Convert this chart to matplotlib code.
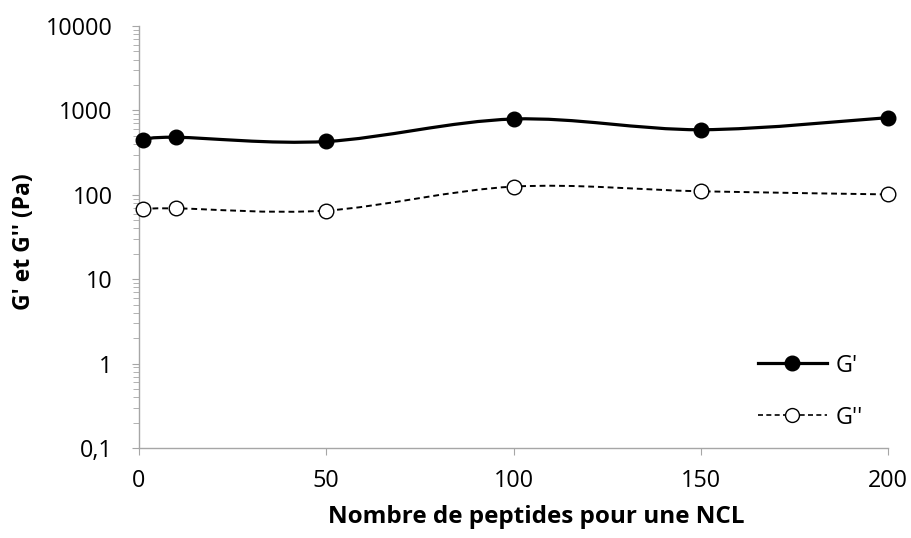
import numpy as np
import matplotlib
matplotlib.use("Agg")
import matplotlib.pyplot as plt
from matplotlib.path import Path
from matplotlib.patches import PathPatch
from matplotlib.lines import Line2D
from matplotlib.ticker import LogLocator, NullFormatter

x_vals = [1, 10, 50, 100, 150, 200]
g_prime = [450, 480, 428, 790, 590, 820]
g_second = [68, 69, 65, 125, 110, 101]
y_ticks = [0.1, 1, 10, 100, 1000, 10000]
y_tick_labels = ["0,1", "1", "10", "100", "1000", "10000"]
x_ticks = [0, 50, 100, 150, 200]

plt.rcParams['font.family'] = ['Open Sans', 'DejaVu Sans']

fig = plt.figure(figsize=(9.12, 5.38), dpi=100)
ax = fig.add_axes([0.1524, 0.1673, 0.8213, 0.7844])


def smooth_path(xs, ys):
    # Excel-like smoothed line (cubic Bezier, Catmull-Rom style) in (x, log y) space
    px = np.array(xs, float)
    py = np.log10(np.array(ys, float))
    n = len(px)
    verts = [(px[0], py[0])]
    codes = [Path.MOVETO]
    for i in range(n - 1):
        p0 = (px[max(i - 1, 0)], py[max(i - 1, 0)])
        p1 = (px[i], py[i])
        p2 = (px[i + 1], py[i + 1])
        p3 = (px[min(i + 2, n - 1)], py[min(i + 2, n - 1)])
        t = 1 / 6
        c1 = (p1[0] + (p2[0] - p0[0]) * t, p1[1] + (p2[1] - p0[1]) * t)
        c2 = (p2[0] - (p3[0] - p1[0]) * t, p2[1] - (p3[1] - p1[1]) * t)
        verts += [c1, c2, p2]
        codes += [Path.CURVE4] * 3
    verts = [(vx, 10 ** vy) for vx, vy in verts]
    return Path(verts, codes)


ax.set_yscale('log')
ax.set_xlim(0, 200)
ax.set_ylim(0.1, 10000)

ax.add_patch(PathPatch(smooth_path(x_vals, g_prime), fill=False, lw=2.3,
                       color='black', zorder=2))
ax.add_patch(PathPatch(smooth_path(x_vals, g_second), fill=False, lw=1.4,
                       color='black', linestyle=(0, (3, 2)), zorder=2))
ax.plot(x_vals, g_prime, linestyle='none', marker='o', ms=10.5,
        mfc='black', mec='black', zorder=3, clip_on=False)
ax.plot(x_vals, g_second, linestyle='none', marker='o', ms=10.5,
        mfc='white', mec='black', mew=1.0, zorder=3, clip_on=False)

ax.set_yticks(y_ticks)
ax.set_yticklabels(y_tick_labels)
ax.yaxis.set_minor_locator(LogLocator(base=10, subs=np.arange(2, 10)))
ax.yaxis.set_minor_formatter(NullFormatter())
ax.set_xticks(x_ticks)

for s in ['top', 'right']:
    ax.spines[s].set_visible(False)
for s in ['left', 'bottom']:
    ax.spines[s].set_color('#a6a6a6')
    ax.spines[s].set_linewidth(1.0)
ax.tick_params(axis='both', which='major', direction='out', length=5,
               color='#a6a6a6', labelsize=16.8)
ax.tick_params(axis='y', which='major', pad=14)
ax.tick_params(axis='x', which='major', pad=10)
ax.tick_params(axis='y', which='minor', direction='out', length=4,
               color='#a6a6a6')

ax.set_xlabel("Nombre de peptides pour une NCL", fontsize=17.5,
              fontweight='bold', labelpad=10)
ax.xaxis.set_label_coords(0.531, -0.135)
ax.set_ylabel("G' et G'' (Pa)", fontsize=16.5, fontweight='bold')
ax.yaxis.set_label_coords(-0.138, 0.49)

handles = [
    Line2D([], [], color='black', lw=2.3, marker='o', ms=10.5,
           mfc='black', mec='black'),
    Line2D([], [], color='black', lw=1.2, linestyle=(0, (3, 2)), marker='o',
           ms=10, mfc='white', mec='black', mew=1.0),
]
ax.legend(handles, ["G'", "G''"], loc='lower right',
          bbox_to_anchor=(0.995, -0.006), frameon=False, fontsize=16.8,
          handlelength=2.95, handletextpad=0.4, labelspacing=1.2)

fig.savefig("out.png", dpi=100)
